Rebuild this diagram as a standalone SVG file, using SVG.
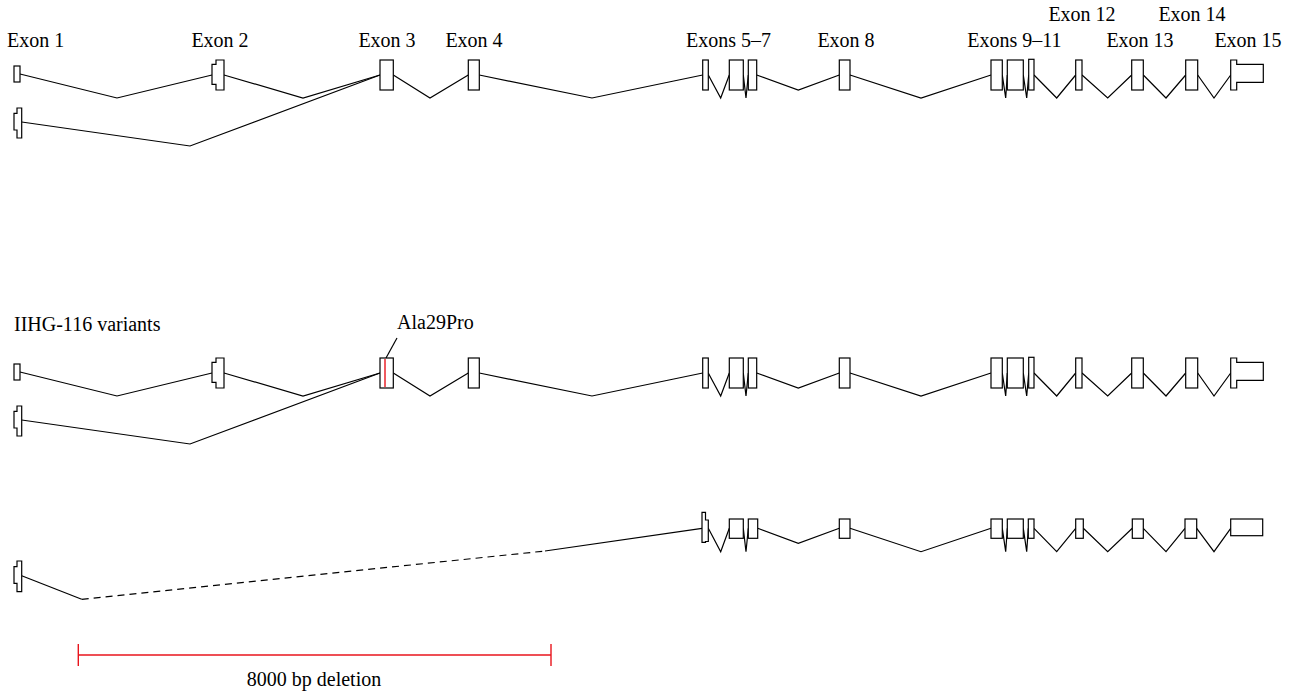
<svg xmlns="http://www.w3.org/2000/svg" width="1296" height="692" viewBox="0 0 1296 692">
<style>
.ex{fill:#fff;stroke:#000;stroke-width:1.2}
.ln{fill:none;stroke:#000;stroke-width:1.2;stroke-linejoin:miter}
.dash{fill:none;stroke:#000;stroke-width:1.2;stroke-dasharray:7,5}
.red{fill:none;stroke:#e8141c;stroke-width:1.4}
text{font-family:"Liberation Serif",serif;font-size:20px;fill:#000}
.c{text-anchor:middle}
</style>
<rect width="1296" height="692" fill="#fff"/>
<g id="labels">
<text x="7" y="47">Exon 1</text>
<text class="c" x="220" y="47">Exon 2</text>
<text class="c" x="387" y="47">Exon 3</text>
<text class="c" x="474" y="47">Exon 4</text>
<text class="c" x="728.5" y="47">Exons 5–7</text>
<text class="c" x="846" y="47">Exon 8</text>
<text class="c" x="1014.5" y="47">Exons 9–11</text>
<text class="c" x="1082" y="21">Exon 12</text>
<text class="c" x="1140" y="47">Exon 13</text>
<text class="c" x="1192" y="21">Exon 14</text>
<text class="c" x="1248" y="47">Exon 15</text>
<text x="14" y="331">IIHG-116 variants</text>
<text x="397" y="329">Ala29Pro</text>
<text class="c" x="314" y="686">8000 bp deletion</text>
</g>
<g id="row1">
<g id="connectors-row1">
<polyline class="ln" points="20,74 117,98 212,75"/>
<polyline class="ln" points="224,75 303,98 380,75"/>
<polyline class="ln" points="21.7,122 190,146 380,75"/>
<polyline class="ln" points="393.3,75 430,98 468.3,75"/>
<polyline class="ln" points="479.3,75 592,98 702.7,75"/>
<polyline class="ln" points="708.3,75 720.7,98 729.3,75"/>
<polyline class="ln" points="743.3,75 746,98 748.3,75"/>
<polyline class="ln" points="756.7,75 798.3,90 839.3,75"/>
<polyline class="ln" points="850,75 921,98 991,75"/>
<polyline class="ln" points="1002.3,75 1005.7,98 1007.3,75"/>
<polyline class="ln" points="1023.3,75 1026.7,98 1028.7,75"/>
<polyline class="ln" points="1034,75 1056.7,98 1075.7,75"/>
<polyline class="ln" points="1082,75 1107.7,98 1131.7,75"/>
<polyline class="ln" points="1143.3,75 1166,98 1185.7,75"/>
<polyline class="ln" points="1197.7,75 1214,98 1230.7,75"/>
</g>
<g id="r1-exon1a"><rect class="ex" x="14" y="66" width="6" height="16"/></g>
<g id="r1-exon1b"><path class="ex" d="M17,108 H21.7 V138 H17 V130 H14 V113.3 H17 Z"/></g>
<g id="r1-exon2"><path class="ex" d="M216,60 H224 V90 H216 V84.3 H212 V64.3 H216 Z"/></g>
<g id="r1-exon3"><rect class="ex" x="380" y="60" width="13.3" height="30"/></g>
<g id="r1-exon4"><rect class="ex" x="468.3" y="60" width="11" height="30"/></g>
<g id="r1-exon5"><rect class="ex" x="702.7" y="60" width="5.6" height="30"/></g>
<g id="r1-exon6"><rect class="ex" x="729.3" y="60" width="14" height="30"/></g>
<g id="r1-exon7"><rect class="ex" x="748.3" y="60" width="8.4" height="30"/></g>
<g id="r1-exon8"><rect class="ex" x="839.3" y="60" width="10.7" height="30"/></g>
<g id="r1-exon9"><rect class="ex" x="991" y="60" width="11.3" height="30"/></g>
<g id="r1-exon10"><rect class="ex" x="1007.3" y="60" width="16" height="30"/></g>
<g id="r1-exon11"><rect class="ex" x="1028.7" y="59.3" width="5.3" height="30.7"/></g>
<g id="r1-exon12"><rect class="ex" x="1075.7" y="60" width="6.3" height="30"/></g>
<g id="r1-exon13"><rect class="ex" x="1131.7" y="60" width="11.6" height="30"/></g>
<g id="r1-exon14"><rect class="ex" x="1185.7" y="60" width="12" height="30"/></g>
<g id="r1-exon15"><path class="ex" d="M1230.7,60 H1236.7 V64.3 H1263.3 V82.3 H1236.7 V90 H1230.7 Z"/></g>
</g>
<g id="row2" transform="translate(0,298)">
<g id="connectors-row2">
<polyline class="ln" points="20,74 117,98 212,75"/>
<polyline class="ln" points="224,75 303,98 380,75"/>
<polyline class="ln" points="21.7,122 190,146 380,75"/>
<polyline class="ln" points="393.3,75 430,98 468.3,75"/>
<polyline class="ln" points="479.3,75 592,98 702.7,75"/>
<polyline class="ln" points="708.3,75 720.7,98 729.3,75"/>
<polyline class="ln" points="743.3,75 746,98 748.3,75"/>
<polyline class="ln" points="756.7,75 798.3,90 839.3,75"/>
<polyline class="ln" points="850,75 921,98 991,75"/>
<polyline class="ln" points="1002.3,75 1005.7,98 1007.3,75"/>
<polyline class="ln" points="1023.3,75 1026.7,98 1028.7,75"/>
<polyline class="ln" points="1034,75 1056.7,98 1075.7,75"/>
<polyline class="ln" points="1082,75 1107.7,98 1131.7,75"/>
<polyline class="ln" points="1143.3,75 1166,98 1185.7,75"/>
<polyline class="ln" points="1197.7,75 1214,98 1230.7,75"/>
<line class="ln" x1="386" y1="60" x2="397" y2="40"/>
</g>
<g id="r2-exon1a"><rect class="ex" x="14" y="66" width="6" height="16"/></g>
<g id="r2-exon1b"><path class="ex" d="M17,108 H21.7 V138 H17 V130 H14 V113.3 H17 Z"/></g>
<g id="r2-exon2"><path class="ex" d="M216,60 H224 V90 H216 V84.3 H212 V64.3 H216 Z"/></g>
<g id="r2-exon3"><rect class="ex" x="380" y="60" width="13.3" height="30"/><line class="red" x1="385" y1="61" x2="385" y2="89"/></g>
<g id="r2-exon4"><rect class="ex" x="468.3" y="60" width="11" height="30"/></g>
<g id="r2-exon5"><rect class="ex" x="702.7" y="60" width="5.6" height="30"/></g>
<g id="r2-exon6"><rect class="ex" x="729.3" y="60" width="14" height="30"/></g>
<g id="r2-exon7"><rect class="ex" x="748.3" y="60" width="8.4" height="30"/></g>
<g id="r2-exon8"><rect class="ex" x="839.3" y="60" width="10.7" height="30"/></g>
<g id="r2-exon9"><rect class="ex" x="991" y="60" width="11.3" height="30"/></g>
<g id="r2-exon10"><rect class="ex" x="1007.3" y="60" width="16" height="30"/></g>
<g id="r2-exon11"><rect class="ex" x="1028.7" y="59.3" width="5.3" height="30.7"/></g>
<g id="r2-exon12"><rect class="ex" x="1075.7" y="60" width="6.3" height="30"/></g>
<g id="r2-exon13"><rect class="ex" x="1131.7" y="60" width="11.6" height="30"/></g>
<g id="r2-exon14"><rect class="ex" x="1185.7" y="60" width="12" height="30"/></g>
<g id="r2-exon15"><path class="ex" d="M1230.7,60 H1236.7 V64.3 H1263.3 V82.3 H1236.7 V90 H1230.7 Z"/></g>
</g>
<g id="row3">
<g id="connectors-row3">
<polyline class="ln" points="21.7,575.7 81.7,599.3"/>
<line class="dash" x1="81.7" y1="599.3" x2="545" y2="551"/>
<polyline class="ln" points="545,551 702,528.3"/>
<polyline class="ln" points="708.3,528.3 720.7,551.7 729.3,528.3"/>
<polyline class="ln" points="743.3,528.3 746,551.7 748.3,528.3"/>
<polyline class="ln" points="757.7,528.3 798.3,543.3 839.3,528.3"/>
<polyline class="ln" points="850,528.3 921,551.7 991,528.3"/>
<polyline class="ln" points="1002.3,528.3 1005.7,551.7 1007.3,528.3"/>
<polyline class="ln" points="1023.3,528.3 1026.7,551.7 1028.3,528.3"/>
<polyline class="ln" points="1034,528.3 1056.7,551.7 1075.7,528.3"/>
<polyline class="ln" points="1083.3,528.3 1107.7,551.7 1132.3,528.3"/>
<polyline class="ln" points="1143.3,528.3 1166,551.7 1185,528.3"/>
<polyline class="ln" points="1196.7,528.3 1214,551.7 1230.7,528.3"/>
</g>
<g id="r3-exon1"><path class="ex" d="M17,561 H21.7 V591.7 H17 V583.3 H14 V566.7 H17 Z"/></g>
<g id="r3-exon5"><path class="ex" d="M702,512.3 H705.5 V520 H708.3 V541.5 H705.5 V542.3 H702 Z"/></g>
<g id="r3-exon6"><rect class="ex" x="729.3" y="519" width="14" height="19.3"/></g>
<g id="r3-exon7"><rect class="ex" x="748.3" y="519" width="9.4" height="19.3"/></g>
<g id="r3-exon8"><rect class="ex" x="839.3" y="519" width="10.7" height="19.3"/></g>
<g id="r3-exon9"><rect class="ex" x="991" y="519" width="11.3" height="19.3"/></g>
<g id="r3-exon10"><rect class="ex" x="1007.3" y="519" width="16" height="19.3"/></g>
<g id="r3-exon11"><rect class="ex" x="1028.3" y="519" width="5.7" height="19.3"/></g>
<g id="r3-exon12"><rect class="ex" x="1075.7" y="519" width="7.6" height="19.3"/></g>
<g id="r3-exon13"><rect class="ex" x="1132.3" y="519" width="11" height="19.3"/></g>
<g id="r3-exon14"><rect class="ex" x="1185" y="519" width="11.7" height="19.3"/></g>
<g id="r3-exon15"><rect class="ex" x="1230.7" y="519" width="32" height="16.7"/></g>
</g>
<g id="scalebar">
<line class="red" x1="78.3" y1="655" x2="551" y2="655"/>
<line class="red" x1="78.3" y1="644" x2="78.3" y2="666"/>
<line class="red" x1="551" y1="644" x2="551" y2="666"/>
</g>
</svg>
